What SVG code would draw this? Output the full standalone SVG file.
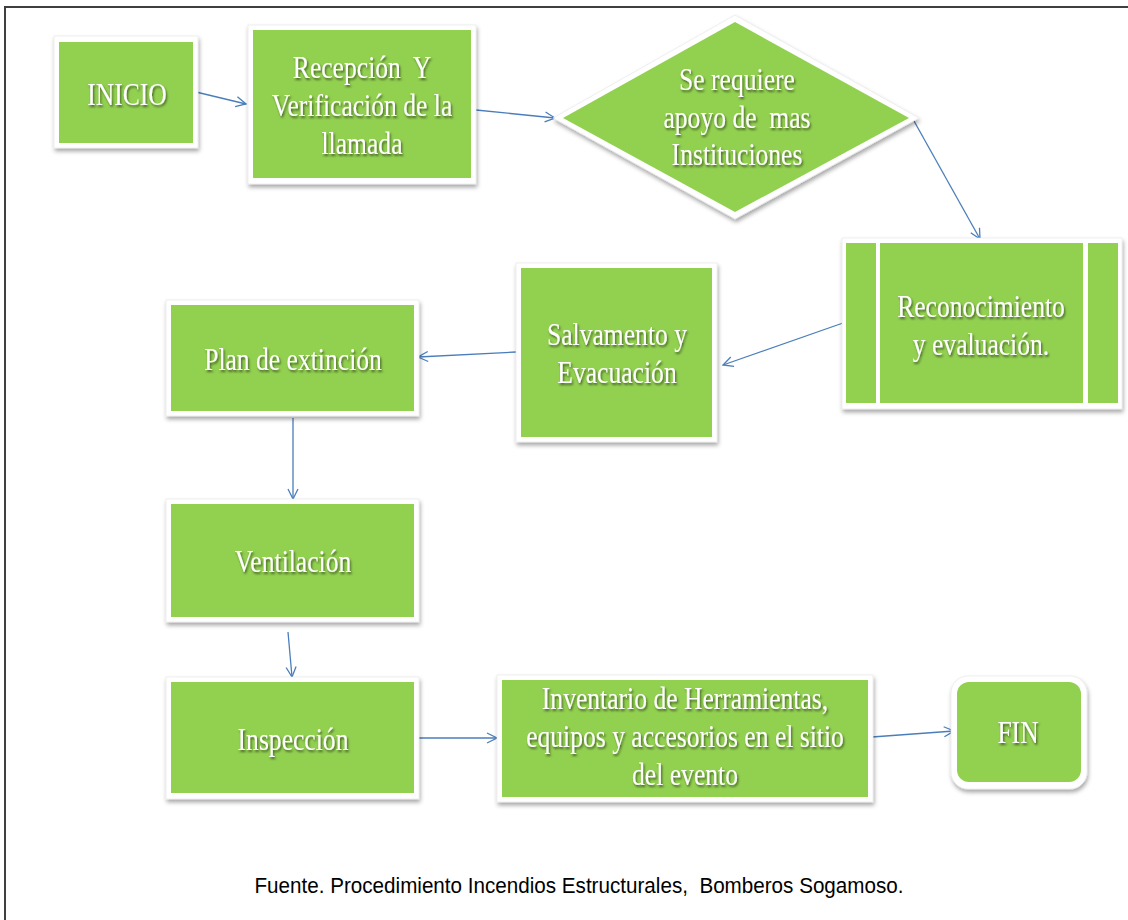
<svg xmlns="http://www.w3.org/2000/svg" width="1128" height="920" viewBox="0 0 1128 920">
<defs>
<style>
.frame{fill:none;stroke:#3f3f3f;stroke-width:2}
.outer{fill:#ffffff;stroke:#e4e4e4;stroke-width:0.6;filter:url(#boxsh)}
.g{fill:#92D050}
.t{font-family:"Liberation Serif","Times New Roman",serif;font-size:32px;fill:#ffffff;text-anchor:middle}
.lbl{filter:url(#txtsh)}
.con{fill:none;stroke:#4A7EBB;stroke-width:1.3;marker-end:url(#arr)}
.cap{font-family:"Liberation Sans",Arial,sans-serif;font-size:22px;fill:#000000;text-anchor:middle}
</style>
<filter id="boxsh" x="-10%" y="-10%" width="125%" height="130%">
<feDropShadow dx="1" dy="3" stdDeviation="2" flood-color="#000000" flood-opacity="0.35"/>
</filter>
<filter id="txtsh" x="-10%" y="-20%" width="125%" height="150%">
<feDropShadow dx="1.5" dy="2" stdDeviation="1" flood-color="#000000" flood-opacity="0.55"/>
</filter>
<marker id="arr" viewBox="0 0 12 12" refX="11" refY="6" markerWidth="12" markerHeight="12" markerUnits="userSpaceOnUse" orient="auto">
<path d="M1,1 L11,6 L1,11" fill="none" stroke="#4A7EBB" stroke-width="1.3"/>
</marker>
</defs>
<rect width="1128" height="920" fill="#ffffff"/>
<path class="frame" d="M5,920 V7 H1128"/>

<g id="connectors">
<line class="con" x1="196" y1="92" x2="246" y2="104"/>
<line class="con" x1="476" y1="110" x2="555" y2="118"/>
<line class="con" x1="914" y1="121" x2="980" y2="239"/>
<line class="con" x1="843" y1="323" x2="723" y2="365"/>
<line class="con" x1="516" y1="352" x2="418" y2="357"/>
<line class="con" x1="293" y1="418" x2="293" y2="499"/>
<line class="con" x1="288" y1="632" x2="292" y2="677"/>
<line class="con" x1="418" y1="738" x2="497" y2="738"/>
<line class="con" x1="872" y1="737" x2="954" y2="731"/>
</g>

<g id="inicio">
<rect class="outer" x="54" y="36" width="144" height="112"/>
<rect class="g" x="59" y="42" width="134" height="101"/>
<g class="lbl" transform="translate(127,0) scale(0.8,1)"><text class="t" x="0" y="105">INICIO</text></g>
</g>

<g id="recepcion">
<rect class="outer" x="248" y="25" width="228" height="159"/>
<rect class="g" x="253" y="30" width="218" height="148"/>
<g class="lbl" transform="translate(362,0) scale(0.8,1)">
<text class="t" x="0" y="78" xml:space="preserve">Recepción  Y</text>
<text class="t" x="0" y="116">Verificación de la</text>
<text class="t" x="0" y="154">llamada</text>
</g>
</g>

<g id="decision">
<polygon points="735,15 919,118 735,219 553,118" fill="#ffffff" stroke="#e4e4e4" stroke-width="0.6" filter="url(#boxsh)"/>
<polygon class="g" points="735,22 909,118 735,212 563,118"/>
<g class="lbl" transform="translate(737,0) scale(0.8,1)">
<text class="t" x="0" y="90">Se requiere</text>
<text class="t" x="0" y="128" xml:space="preserve">apoyo de  mas</text>
<text class="t" x="0" y="165">Instituciones</text>
</g>
</g>

<g id="reconocimiento">
<rect class="outer" x="842" y="238" width="280" height="171"/>
<rect class="g" x="846" y="243" width="30" height="160"/>
<rect class="g" x="880" y="243" width="203" height="160"/>
<rect class="g" x="1088" y="243" width="30" height="160"/>
<g class="lbl" transform="translate(981,0) scale(0.8,1)">
<text class="t" x="0" y="317">Reconocimiento</text>
<text class="t" x="0" y="355">y evaluación.</text>
</g>
</g>

<g id="salvamento">
<rect class="outer" x="516" y="263" width="201" height="179"/>
<rect class="g" x="521" y="268" width="191" height="169"/>
<g class="lbl" transform="translate(617,0) scale(0.8,1)">
<text class="t" x="0" y="345">Salvamento y</text>
<text class="t" x="0" y="383">Evacuación</text>
</g>
</g>

<g id="plan">
<rect class="outer" x="166" y="300" width="253" height="116"/>
<rect class="g" x="171" y="305" width="243" height="106"/>
<g class="lbl" transform="translate(293,0) scale(0.8,1)"><text class="t" x="0" y="370">Plan de extinción</text></g>
</g>

<g id="ventilacion">
<rect class="outer" x="166" y="499" width="253" height="123"/>
<rect class="g" x="171" y="504" width="243" height="113"/>
<g class="lbl" transform="translate(293,0) scale(0.8,1)"><text class="t" x="0" y="572">Ventilación</text></g>
</g>

<g id="inspeccion">
<rect class="outer" x="166" y="677" width="253" height="122"/>
<rect class="g" x="171" y="682" width="243" height="111"/>
<g class="lbl" transform="translate(293,0) scale(0.8,1)"><text class="t" x="0" y="750">Inspección</text></g>
</g>

<g id="inventario">
<rect class="outer" x="497" y="675" width="376" height="127"/>
<rect class="g" x="502" y="680" width="366" height="117"/>
<g class="lbl" transform="translate(685,0) scale(0.8,1)">
<text class="t" x="0" y="709">Inventario de Herramientas,</text>
<text class="t" x="0" y="747">equipos y accesorios en el sitio</text>
<text class="t" x="0" y="785">del evento</text>
</g>
</g>

<g id="fin">
<rect class="outer" x="951" y="676" width="136" height="113" rx="17"/>
<rect class="g" x="957" y="682" width="124" height="100" rx="12"/>
<g class="lbl" transform="translate(1018,0) scale(0.8,1)"><text class="t" x="0" y="743">FIN</text></g>
</g>

<text class="cap" x="579" y="893" textLength="649" lengthAdjust="spacingAndGlyphs" xml:space="preserve">Fuente. Procedimiento Incendios Estructurales,  Bomberos Sogamoso.</text>
</svg>
